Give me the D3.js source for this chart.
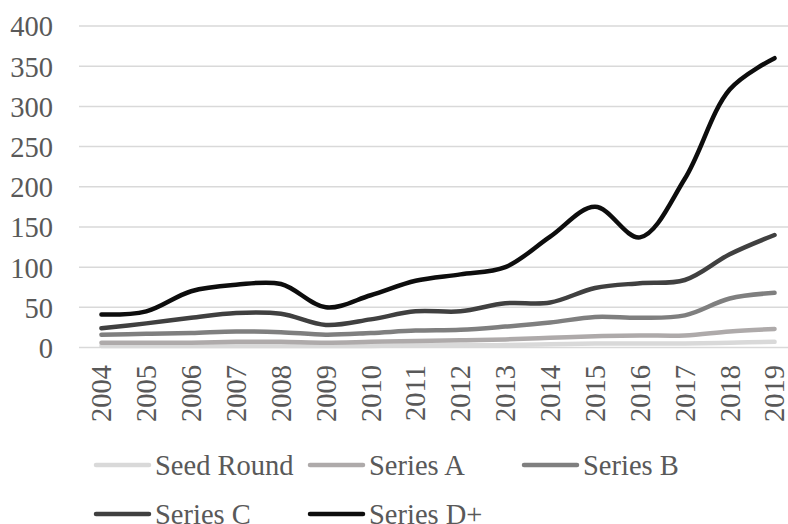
<!DOCTYPE html>
<html>
<head>
<meta charset="utf-8">
<script src="https://cdn.jsdelivr.net/npm/d3@7"></script>
<style>
  html, body { margin: 0; padding: 0; background: #fff; }
  svg { display: block; }
  svg text { font-family: "Liberation Serif", "Times New Roman", Times, "DejaVu Serif", serif; fill: #595959; }
</style>
</head>
<body>
<svg id="chart" width="788" height="524"></svg>
<script>
// Funding rounds per year, by stage
const years = ["2004","2005","2006","2007","2008","2009","2010","2011","2012","2013","2014","2015","2016","2017","2018","2019"];
const seedRound = [2, 2, 2, 2, 2, 2, 2, 3, 3, 3, 4, 5, 5, 5, 6, 7];
const seriesA   = [6, 6, 6, 7, 7, 6, 7, 8, 9, 10, 12, 14, 15, 15, 20, 23];
const seriesB   = [16, 17, 18, 20, 19, 16, 18, 21, 22, 26, 31, 38, 37, 40, 61, 68];
const seriesC   = [24, 30, 37, 43, 42, 28, 35, 45, 45, 55, 56, 74, 80, 84, 116, 140];
const seriesD   = [41, 45, 70, 78, 79, 50, 65, 83, 91, 100, 138, 175, 137, 210, 321, 360];
const yTicks = [0, 50, 100, 150, 200, 250, 300, 350, 400];

const seriesNames  = ["Seed Round", "Series A", "Series B", "Series C", "Series D+"];
const seriesValues = [seedRound, seriesA, seriesB, seriesC, seriesD];
const seriesColors = ["#d9d9d9", "#aeaaaa", "#7f7f7f", "#404040", "#0d0d0d"];

const FONT = 28.5;
const svg = d3.select("#chart");
const plot = { left: 79, right: 797, top: 26, bottom: 347.5 };

const x = d3.scalePoint().domain(years).range([plot.left, plot.right]).padding(0.5);
const y = d3.scaleLinear().domain([0, 400]).range([plot.bottom, plot.top]);

// Horizontal gridlines
svg.append("g")
  .selectAll("line")
  .data(yTicks)
  .join("line")
  .attr("x1", plot.left).attr("x2", plot.right)
  .attr("y1", d => y(d)).attr("y2", d => y(d))
  .attr("stroke", "#d9d9d9").attr("stroke-width", 1.5);

// Y axis labels
const yAxis = svg.append("g")
  .attr("transform", `translate(53,0)`)
  .call(d3.axisLeft(y).tickValues(yTicks).tickSize(0).tickPadding(0));
yAxis.select(".domain").remove();
yAxis.attr("font-family", null).attr("font-size", null);
yAxis.selectAll("text")
  .attr("font-size", FONT)
  .attr("fill", "#595959")
  .attr("dy", "0.35em");

// X axis labels, rotated
const xAxis = svg.append("g")
  .attr("transform", `translate(0,${plot.bottom})`)
  .call(d3.axisBottom(x).tickSize(0).tickPadding(0));
xAxis.select(".domain").remove();
xAxis.attr("font-family", null).attr("font-size", null);
xAxis.selectAll("text")
  .attr("font-size", FONT)
  .attr("fill", "#595959")
  .attr("transform", "translate(0,17.5) rotate(-90)")
  .attr("text-anchor", "end")
  .attr("x", 0)
  .attr("y", 0)
  .attr("dy", "0.33em");

// Smoothed series lines
const line = d3.line()
  .x((d, i) => x(years[i]))
  .y(d => y(d))
  .curve(d3.curveCatmullRom.alpha(0.5));

svg.append("g")
  .selectAll("path")
  .data(seriesValues)
  .join("path")
  .attr("d", d => line(d))
  .attr("fill", "none")
  .attr("stroke", (d, i) => seriesColors[i])
  .attr("stroke-width", 4.5)
  .attr("stroke-linecap", "round")
  .attr("stroke-linejoin", "round");

// Legend in two rows
const legendPos = [
  { x: 96, y: 465 }, { x: 310, y: 465 }, { x: 524, y: 465 },
  { x: 96, y: 514 }, { x: 310, y: 514 }
];
const legend = svg.append("g")
  .selectAll("g")
  .data(seriesNames)
  .join("g")
  .attr("transform", (d, i) => `translate(${legendPos[i].x},${legendPos[i].y})`);
legend.append("line")
  .attr("x1", 0).attr("x2", 53).attr("y1", 0).attr("y2", 0)
  .attr("stroke", (d, i) => seriesColors[i])
  .attr("stroke-width", 4.5)
  .attr("stroke-linecap", "round");
legend.append("text")
  .attr("x", 59).attr("y", 10)
  .attr("font-size", FONT)
  .text(d => d);
</script>
</body>
</html>
